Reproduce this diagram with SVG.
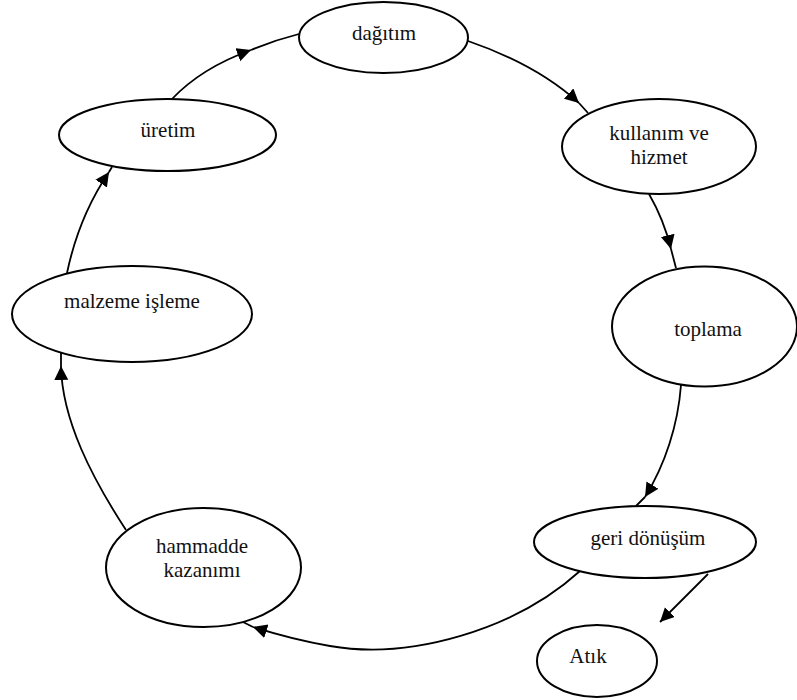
<svg xmlns="http://www.w3.org/2000/svg" width="797" height="700" viewBox="0 0 797 700">
<style>
.node ellipse{fill:#fff;stroke:#000;stroke-width:2}
.node text{font-family:"Liberation Serif","Times New Roman",serif;font-size:21px;fill:#111;text-anchor:middle}
.conn path{fill:none;stroke:#000;stroke-width:1.8}
</style>
<defs>
<marker id="arr" markerUnits="userSpaceOnUse" markerWidth="16" markerHeight="16" refX="14" refY="7" orient="auto">
<path d="M0,0 L14,7 L0,14 z" fill="#000"/>
</marker>
</defs>
<rect width="797" height="700" fill="#fff"/>
<g id="connectors" class="conn">
<path d="M126,530 C92,478 62,420 61,366" marker-end="url(#arr)"/>
<path d="M61,366 L61,353"/>
<path d="M67,273 C75,235 90,200 109,172" marker-end="url(#arr)"/>
<path d="M109,172 L112,167"/>
<path d="M172,99 C190,80 215,63 251,50" marker-end="url(#arr)"/>
<path d="M251,50 Q275,40 299,34"/>
<path d="M468,41 C500,52 545,72 579,103" marker-end="url(#arr)"/>
<path d="M579,103 L588,113"/>
<path d="M649,194 Q664,220 671,249" marker-end="url(#arr)"/>
<path d="M671,249 L676,268"/>
<path d="M681,385 C678,425 665,465 645,497" marker-end="url(#arr)"/>
<path d="M645,497 L636,506"/>
<path d="M708,574 L660,622" marker-end="url(#arr)"/>
<path d="M580,571 C515,630 410,660 330,646 C300,641 275,634 253,627" marker-end="url(#arr)"/>
<path d="M253,627 L243,622"/>
</g>
<g id="dagitim" class="node"><ellipse cx="383.5" cy="37.5" rx="84.5" ry="35.5"/><text x="384" y="40">dağıtım</text></g>
<g id="kullanim" class="node"><ellipse cx="659" cy="146.5" rx="97" ry="47.5"/><text x="659" y="140">kullanım ve</text><text x="659" y="164">hizmet</text></g>
<g id="toplama" class="node"><ellipse cx="704.5" cy="326.5" rx="92.5" ry="60"/><text x="708" y="336">toplama</text></g>
<g id="geri-donusum" class="node"><ellipse cx="645" cy="542" rx="111" ry="36"/><text x="648" y="545">geri dönüşüm</text></g>
<g id="atik" class="node"><ellipse cx="597" cy="661" rx="60" ry="36"/><text x="588" y="663">Atık</text></g>
<g id="hammadde" class="node"><ellipse cx="203.5" cy="567.5" rx="97.5" ry="59.5"/><text x="202" y="553">hammadde</text><text x="202" y="577">kazanımı</text></g>
<g id="malzeme" class="node"><ellipse cx="132" cy="314" rx="120" ry="48"/><text x="132" y="308">malzeme işleme</text></g>
<g id="uretim" class="node"><ellipse cx="167.5" cy="135" rx="108.5" ry="36"/><text x="168" y="137">üretim</text></g>
</svg>
